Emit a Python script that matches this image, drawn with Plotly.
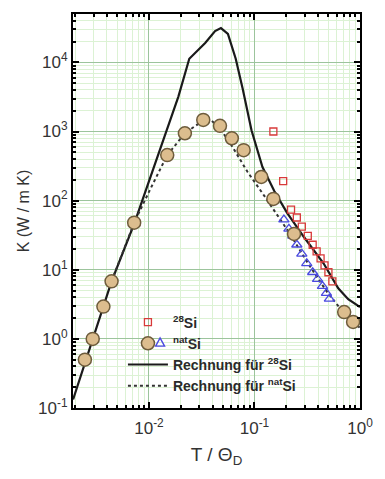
import plotly.graph_objects as go

# --- data ---
circ_T = [0.00247, 0.00293, 0.0037, 0.00442, 0.00724, 0.0149, 0.0219, 0.0327,
          0.0471, 0.061, 0.0789, 0.116, 0.151, 0.237, 0.708, 0.86]
circ_K = [0.5, 1.0, 2.93, 6.8, 48, 456, 942, 1473, 1208, 798, 537, 220, 106, 33, 2.44, 1.76]

sq_T = [0.151, 0.187, 0.222, 0.252, 0.281, 0.32, 0.356, 0.388, 0.423, 0.461, 0.502, 0.547]
sq_K = [1000, 192, 74, 57, 42, 31, 23, 18.4, 14.6, 11.6, 9.2, 6.8]

tri_T = [0.19, 0.212, 0.231, 0.252, 0.281, 0.313, 0.356, 0.396, 0.441, 0.481, 0.513]
tri_K = [53, 39, 31, 23, 17, 12.4, 9.2, 7.3, 5.8, 4.6, 3.8]

calc28_T = [0.00191, 0.00293, 0.00442, 0.00724, 0.0124, 0.019, 0.0241, 0.0275, 0.0341,
            0.0423, 0.0481, 0.056, 0.0664, 0.0772, 0.0937, 0.119, 0.154, 0.203, 0.293,
            0.451, 0.622, 0.773, 1.0]
calc28_K = [0.133, 1.0, 6.8, 46, 505, 3200, 11300, 13700, 19100, 28400, 31400, 25800,
            11300, 4180, 1040, 306, 138, 67, 30, 12.4, 5.4, 3.76, 2.88]

calcnat_T = [0.00442, 0.00724, 0.01, 0.0149, 0.0219, 0.0327, 0.038, 0.0471, 0.0597,
             0.0861, 0.124, 0.164, 0.217, 0.313, 0.481, 0.74, 1.0]
calcnat_K = [6.8, 48, 134, 456, 942, 1450, 1500, 1110, 655, 259, 117, 62.5, 33, 13.2,
             4.9, 2.14, 1.44]

x_tickvals = [0.01, 0.1, 1]
x_ticktext = ["10<sup>-2</sup>", "10<sup>-1</sup>", "10<sup>0</sup>"]
y_tickvals = [0.1, 1, 10, 100, 1000, 10000]
y_ticktext = ["10<sup>-1</sup>", "10<sup>0</sup>", "10<sup>1</sup>", "10<sup>2</sup>",
              "10<sup>3</sup>", "10<sup>4</sup>"]

FONT = "Liberation Sans, Arial, sans-serif"
W, H = 385, 479
ML, MR, MT, MB = 73, 22, 12, 71

fig = go.Figure()
fig.add_trace(go.Scatter(x=calc28_T, y=calc28_K, mode="lines",
                         line=dict(color="#1a1a1a", width=2.2),
                         name="Rechnung für <sup>28</sup>Si", legendrank=3))
fig.add_trace(go.Scatter(x=calcnat_T, y=calcnat_K, mode="lines",
                         line=dict(color="#333333", width=2, dash="dot"),
                         name="Rechnung für <sup>nat</sup>Si", legendrank=4))
fig.add_trace(go.Scatter(x=sq_T, y=sq_K, mode="markers",
                         marker=dict(symbol="square-open", size=7, color="#d83a3a",
                                     line=dict(width=1.3)),
                         name="<sup>28</sup>Si", legendrank=1))
fig.add_trace(go.Scatter(x=tri_T, y=tri_K, mode="markers",
                         marker=dict(symbol="triangle-up-open", size=9, color="#4a4ae0",
                                     line=dict(width=1.3)),
                         name="<sup>nat</sup>Si", showlegend=False))
fig.add_trace(go.Scatter(x=circ_T, y=circ_K, mode="markers",
                         marker=dict(symbol="circle", size=13, color="#dcbd8e",
                                     line=dict(color="#6e5c3c", width=1.5)),
                         name="<sup>nat</sup>Si", legendrank=2))

axis_common = dict(
    type="log", showline=True, linecolor="black", linewidth=2, mirror="ticks",
    ticks="inside", ticklen=6, tickwidth=1.5, tickcolor="black",
    showgrid=True, gridcolor="#9cc49c", gridwidth=1, zeroline=False,
    tickfont=dict(family=FONT, size=17, color="#333"),
    minor=dict(dtick="D1", ticks="inside", ticklen=3, tickcolor="black", showgrid=True,
               gridcolor="#dcf2d4", gridwidth=1),
)

fig.update_xaxes(**axis_common, range=[-2.72, 0], tickmode="array",
                 tickvals=x_tickvals, ticktext=x_ticktext, ticklabelstandoff=4,
                 title=dict(text="T / Θ<sub>D</sub>", font=dict(family=FONT, size=19, color="#333"),
                            standoff=10))
fig.update_yaxes(**axis_common, range=[-1, 4.7], tickmode="array",
                 tickvals=y_tickvals, ticktext=y_ticktext,
                 title=dict(text="K (W / m K)", font=dict(family=FONT, size=16, color="#333"),
                            standoff=4))

# legend: the natSi row shows a circle and a triangle side by side
def px2paper(px, py):
    return (px - ML) / (W - ML - MR), (H - MB - py) / (H - MT - MB)

# white backing for the legend area (drawn below the data)
lx0, ly0 = px2paper(132, 394)
lx1, ly1 = px2paper(312, 311)
fig.add_shape(type="rect", xref="paper", yref="paper", x0=lx0, y0=ly0, x1=lx1, y1=ly1,
              line=dict(width=0), fillcolor="rgba(255,255,255,0.6)", layer="below")

tcx, tcy, r = 161, 342, 4.5
pts = [px2paper(tcx - r, tcy + r * 0.85), px2paper(tcx + r, tcy + r * 0.85),
       px2paper(tcx, tcy - r)]
path = "M{:.4f},{:.4f} L{:.4f},{:.4f} L{:.4f},{:.4f} Z".format(*pts[0], *pts[1], *pts[2])
fig.add_shape(type="path", path=path, xref="paper", yref="paper",
              line=dict(color="#4a4ae0", width=1.4), fillcolor="rgba(0,0,0,0)", layer="above")

fig.update_layout(
    width=W, height=H,
    margin=dict(l=ML, r=MR, t=MT, b=MB),
    paper_bgcolor="white", plot_bgcolor="white",
    font=dict(family=FONT, color="#333"),
    legend=dict(x=0.174, y=0.2576, xanchor="left", yanchor="top",
                bgcolor="rgba(0,0,0,0)", borderwidth=0,
                font=dict(family=FONT, size=14, color="#2a2a2a", weight="bold"),
                tracegroupgap=0, itemwidth=40),
)

fig.write_html("out.html")
